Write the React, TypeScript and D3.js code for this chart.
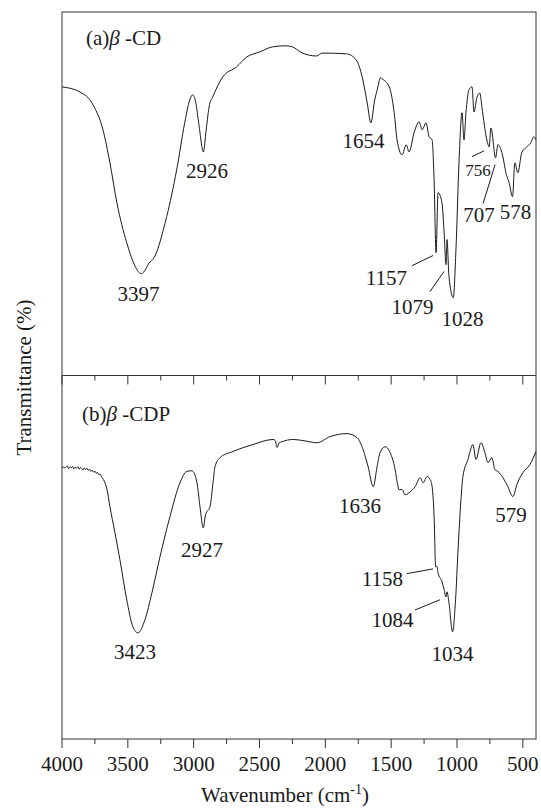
import React from "react";
import * as d3 from "d3";

// ---------- data ----------
const topWavenumbers = [4000,3864,3765,3689,3636,3583,3508,3460,3397,3330,3311,3205,3129,3068,3030,3008,2985,2960,2926,2905,2880,2856,2780,2674,2598,2500,2402,2300,2250,2174,2068,2023,1841,1765,1720,1682,1654,1625,1606,1580,1568,1515,1477,1455,1417,1386,1364,1326,1288,1265,1235,1212,1189,1174,1159,1144,1114,1099,1083,1076,1061,1028,1008,985,962,947,932,909,886,871,848,826,811,773,756,742,707,689,659,621,606,578,561,538,508,470,440,417,400];
const topTransmittance = [79.4,78.0,74.5,67.6,58.5,47.5,36.5,31.3,28.0,31.3,31.9,43.7,56.6,69.5,75.8,77.2,75.3,69.0,61.5,67.6,74.5,76.6,82.1,84.9,87.6,89.0,90.4,90.7,90.4,88.7,87.9,88.7,88.5,86.8,82.1,75.0,69.5,75.8,78.6,81.9,81.6,79.4,72.3,64.8,60.7,63.5,61.5,66.8,69.8,67.6,69.5,65.7,64.8,53.8,33.8,50.3,47.5,40.1,30.5,37.4,27.2,21.4,34.6,58.5,72.3,64.8,72.3,78.6,79.4,72.5,76.6,77.7,73.9,64.8,62.9,68.1,59.9,63.5,61.3,54.7,53.3,49.2,58.5,55.8,61.3,62.9,64.0,65.7,64.8];

const bottomWavenumbers = [4000,3990,3980,3970,3960,3950,3940,3930,3920,3910,3900,3890,3880,3870,3860,3850,3840,3830,3820,3810,3800,3790,3780,3770,3760,3750,3740,3730,3720,3710,3700,3680,3658,3636,3598,3560,3508,3462,3423,3370,3317,3256,3180,3104,3053,3013,2975,2952,2927,2910,2876,2853,2838,2800,2701,2550,2397,2380,2367,2350,2329,2245,2170,2063,1964,1835,1759,1713,1675,1636,1607,1584,1546,1508,1470,1455,1440,1417,1394,1356,1318,1280,1257,1227,1204,1189,1174,1162,1151,1144,1114,1098,1084,1076,1061,1034,1011,992,970,955,917,879,856,818,788,765,735,712,689,651,613,576,545,499,446,400];
const bottomTransmittance = [74.6,74.9,74.5,74.8,75.1,74.4,74.9,74.6,75.0,74.3,74.8,74.5,74.9,74.2,74.7,74.4,74.0,74.6,74.1,74.5,73.9,74.2,73.6,74.0,73.4,73.7,73.1,73.3,72.7,72.9,72.2,71.0,68.6,63.9,56.8,49.3,38.3,30.9,29.2,32.8,40.2,50.1,61.2,70.5,73.6,73.8,70.5,63.9,58.1,61.7,63.9,70.5,74.9,77.4,79.1,81.0,82.4,82.1,80.2,81.5,81.8,82.4,82.1,81.5,83.2,84.0,82.9,79.6,74.9,69.4,74.9,78.8,80.4,78.8,74.1,70.8,68.6,68.6,67.2,68.0,69.4,71.9,70.5,72.2,71.4,69.4,61.2,47.4,47.4,45.7,43.3,41.1,39.1,40.5,37.5,29.5,38.3,52.1,65.8,72.2,76.9,81.0,76.9,81.5,78.8,76.0,77.4,74.1,73.6,71.9,69.4,66.7,70.0,73.3,75.5,79.1];

const xTicksMajor = [4000,3500,3000,2500,2000,1500,1000,500];
const xTicksMinor = [3750,3250,2750,2250,1750,1250,750];

const panelTitles = [["(a)", "\u03B2", " -CD"], ["(b)", "\u03B2", " -CDP"]];

// annotation text with anchor (wavenumber, transmittance) of the label
const topLabels = [
  { text: "2926", wn: 2899, t: 54.4, size: 21 },
  { text: "3397", wn: 3419, t: 20.6, size: 21 },
  { text: "1654", wn: 1710, t: 62.6, size: 21 },
  { text: "756", wn: 841, t: 54.9, size: 17 },
  { text: "707", wn: 833, t: 42.3, size: 21 },
  { text: "578", wn: 556, t: 43.1, size: 21 },
  { text: "1157", wn: 1536, t: 25.0, size: 21 },
  { text: "1079", wn: 1338, t: 16.8, size: 21 },
  { text: "1028", wn: 958, t: 13.7, size: 21 },
];
const topLeaders = [
  [1342, 30.2, 1182, 33.0],
  [1205, 23.1, 1099, 28.6],
  [886, 60.2, 795, 61.8],
  [802, 47.3, 711, 58.0],
];
const bottomLabels = [
  { text: "2927", wn: 2937, t: 50.1, size: 21 },
  { text: "3423", wn: 3446, t: 22.0, size: 21 },
  { text: "1636", wn: 1737, t: 62.3, size: 21 },
  { text: "579", wn: 590, t: 59.8, size: 21 },
  { text: "1158", wn: 1566, t: 42.1, size: 21 },
  { text: "1084", wn: 1490, t: 30.9, size: 21 },
  { text: "1034", wn: 1034, t: 21.5, size: 21 },
];
const bottomLeaders = [
  [1380, 45.5, 1182, 46.8],
  [1319, 35.5, 1129, 38.3],
];

// ---------- layout ----------
const W = 541, H = 808;
const left = 62, right = 536, top = 12, mid = 375.5, bottom = 739;
const FONT = "'Liberation Serif', 'Times New Roman', serif";
const INK = "#1a1a1a";

export default function App() {
  const x = d3.scaleLinear().domain([4000, 400]).range([left, right]);
  const yTop = d3.scaleLinear().domain([0, 100]).range([mid, top]);
  const yBot = d3.scaleLinear().domain([0, 100]).range([bottom, mid]);

  const mk = (ys: d3.ScaleLinear<number, number>) =>
    d3.line<[number, number]>().x(d => x(d[0])).y(d => ys(d[1])).curve(d3.curveMonotoneX);

  const topPts = topWavenumbers.map((w, i) => [w, topTransmittance[i]] as [number, number]);
  const botPts = bottomWavenumbers.map((w, i) => [w, bottomTransmittance[i]] as [number, number]);

  const renderLabels = (labels: typeof topLabels, ys: d3.ScaleLinear<number, number>) =>
    labels.map((l, i) => (
      <text key={i} x={x(l.wn)} y={ys(l.t)} textAnchor="middle" fontSize={l.size} fill={INK}>{l.text}</text>
    ));
  const renderLeaders = (ls: number[][], ys: d3.ScaleLinear<number, number>) =>
    ls.map((l, i) => (
      <line key={i} x1={x(l[0])} y1={ys(l[1])} x2={x(l[2])} y2={ys(l[3])} stroke={INK} strokeWidth={1} />
    ));
  const title = (parts: string[], px: number, py: number) => (
    <text x={px} y={py} fontSize={21} fill={INK}>
      {parts[0]}<tspan fontStyle="italic">{parts[1]}</tspan>{parts[2]}
    </text>
  );

  return (
    <svg width={W} height={H} style={{ position: "absolute", left: 0, top: 0, background: "#fff" }} fontFamily={FONT}>
      <rect x={0} y={0} width={W} height={H} fill="#fff" />
      {/* frame */}
      <rect x={left} y={top} width={right - left} height={bottom - top} fill="none" stroke="#333" strokeWidth={1} />
      <line x1={left} x2={right} y1={mid} y2={mid} stroke="#333" strokeWidth={1} />
      {/* ticks at divider (into bottom panel) */}
      {xTicksMajor.map(t => (
        <line key={"dm" + t} x1={x(t)} x2={x(t)} y1={mid} y2={mid + 9} stroke="#333" />
      ))}
      {xTicksMinor.map(t => (
        <line key={"dn" + t} x1={x(t)} x2={x(t)} y1={mid} y2={mid + 5} stroke="#333" />
      ))}
      {/* bottom axis ticks (outward) */}
      {xTicksMajor.map(t => (
        <line key={"bm" + t} x1={x(t)} x2={x(t)} y1={bottom} y2={bottom + 9} stroke="#333" />
      ))}
      {xTicksMinor.map(t => (
        <line key={"bn" + t} x1={x(t)} x2={x(t)} y1={bottom} y2={bottom + 5} stroke="#333" />
      ))}
      {xTicksMajor.map(t => (
        <text key={"tl" + t} x={x(t)} y={771} textAnchor="middle" fontSize={21} fill={INK}>{t}</text>
      ))}
      {/* curves */}
      <path d={mk(yTop)(topPts) || ""} fill="none" stroke={INK} strokeWidth={1} />
      <path d={mk(yBot)(botPts) || ""} fill="none" stroke={INK} strokeWidth={1} />
      {/* titles */}
      {title(panelTitles[0], x(3818), yTop(90.9))}
      {title(panelTitles[1], x(3848), yBot(87.6))}
      {renderLabels(topLabels, yTop)}
      {renderLeaders(topLeaders, yTop)}
      {renderLabels(bottomLabels, yBot)}
      {renderLeaders(bottomLeaders, yBot)}
      {/* axis titles */}
      <text x={285} y={802} textAnchor="middle" fontSize={21} fill={INK}>
        Wavenumber (cm<tspan dy={-8} fontSize={14}>-1</tspan><tspan dy={8}>)</tspan>
      </text>
      <text transform={`translate(31, ${(top + bottom) / 2 + 2}) rotate(-90)`} textAnchor="middle" fontSize={21} fill={INK}>
        Transmittance (%)
      </text>
    </svg>
  );
}
